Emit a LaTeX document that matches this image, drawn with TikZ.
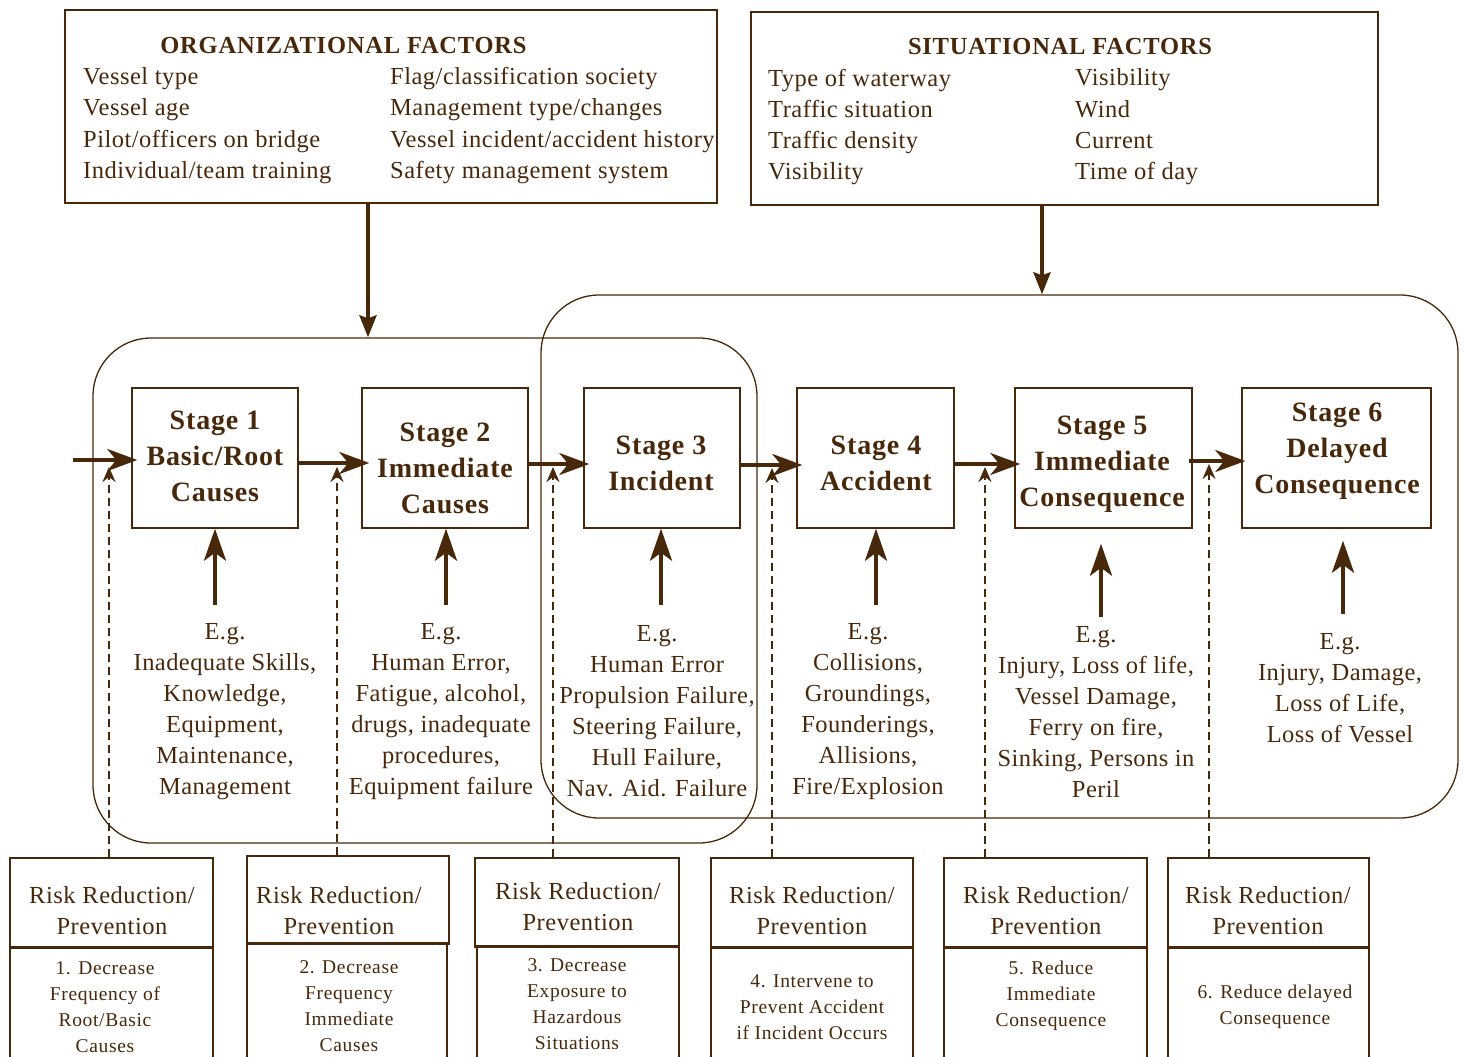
\documentclass[tikz,border=0pt]{standalone}
\usepackage{fontspec}
\setmainfont{Liberation Serif}
\usetikzlibrary{arrows.meta,calc}
\definecolor{brn}{RGB}{72,40,10}

\begin{document}
\begin{tikzpicture}[x=1pt,y=-1pt,
  frame/.style={draw=brn, line width=1.4pt, rectangle, inner sep=0pt},
  grp/.style={draw=brn, line width=1.3pt, rectangle, rounded corners=58pt, inner sep=0pt},
  txt/.style={text=brn, inner sep=0pt, align=center, font=\fontsize{24.5}{31}\selectfont\addfontfeature{LetterSpace=1.8}},
  coltxt/.style={text=brn, inner sep=0pt, align=left, anchor=west, font=\fontsize{24.5}{31.3}\selectfont\addfontfeature{LetterSpace=2}},
  headtxt/.style={text=brn, inner sep=0pt, font=\bfseries\fontsize{24.5}{30}\selectfont\addfontfeature{LetterSpace=3.2}},
  stagetxt/.style={text=brn, inner sep=0pt, align=center, font=\bfseries\fontsize{28}{36}\selectfont\addfontfeature{LetterSpace=3}},
  rrtxt/.style={text=brn, inner sep=0pt, align=center, font=\fontsize{24.5}{31}\selectfont\addfontfeature{LetterSpace=2.2}},
  smalltxt/.style={text=brn, inner sep=0pt, align=center, font=\fontsize{19.5}{26}\selectfont\addfontfeature{LetterSpace=3.5}},
  flow/.style={draw=brn, line width=4pt, -{Stealth[length=30pt,width=22pt,inset=9pt]}},
  uparrow/.style={draw=brn, line width=4pt, -{Stealth[length=32pt,width=22pt,inset=8pt]}},
  downarrow/.style={draw=brn, line width=4pt, -{Stealth[length=22pt,width=17pt,inset=3pt]}},
  dasharrow/.style={draw=brn, line width=1.8pt, dash pattern=on 8pt off 5pt, -{Stealth[length=15pt,width=13pt,inset=5pt]}},
  sep/.style={draw=brn, line width=3.2pt}
]
\useasboundingbox (0,0) rectangle (1464,1057);
\clip (0,0) rectangle (1464,1057);

% ---------- factor boxes ----------
\node[frame, minimum width=652pt, minimum height=193pt] (org) at (391,106.5) {};
\node[headtxt] (orgt) at (343.5,46) {ORGANIZATIONAL FACTORS};
\node[coltxt] (orgl) at (83,125.5) {Vessel type\\Vessel age\\Pilot/officers on bridge\\Individual/team training};
\node[coltxt] (orgr) at (390,125.5) {Flag/classification society\\Management type/changes\\Vessel incident/accident history\\Safety management system};

\node[frame, minimum width=627pt, minimum height=193pt] (sit) at (1064.5,108.5) {};
\node[headtxt] (sitt) at (1060,47) {SITUATIONAL FACTORS};
\node[coltxt] (sitl) at (768,127) {Type of waterway\\Traffic situation\\Traffic density\\Visibility};
\node[coltxt] (sitr) at (1075,127) {Visibility\\Wind\\Current\\Time of day};

% ---------- grouping frames ----------
\node[grp, minimum width=664pt, minimum height=505pt] (g1) at (425,590.5) {};
\node[grp, minimum width=917pt, minimum height=523pt] (g2) at (999.5,556.5) {};

\coordinate (oa) at (368,203);
\coordinate (sa) at (1042,205);
\draw[downarrow] (oa) -- (oa |- g1.north);
\draw[downarrow] (sa) -- (sa |- g2.north);

% ---------- stages ----------
\node[frame, minimum width=166pt, minimum height=140pt] (s1) at (215,458) {};
\node[frame, minimum width=166pt, minimum height=140pt] (s2) at (445,458) {};
\node[frame, minimum width=156pt, minimum height=140pt] (s3) at (662,458) {};
\node[frame, minimum width=157pt, minimum height=140pt] (s4) at (875.5,458) {};
\node[frame, minimum width=177pt, minimum height=140pt] (s5) at (1103.5,458) {};
\node[frame, minimum width=189pt, minimum height=140pt] (s6) at (1336.5,458) {};

\node[stagetxt] (s1t) at (215,456) {Stage 1\\Basic/Root\\Causes};
\node[stagetxt] (s2t) at (445,468.5) {Stage 2\\Immediate\\Causes};
\node[stagetxt] (s3t) at (661,463.5) {Stage 3\\Incident};
\node[stagetxt] (s4t) at (876,463.5) {Stage 4\\Accident};
\node[stagetxt] (s5t) at (1102,464) {Stage 5\\Immediate\\Consequence};
\node[stagetxt] (s6t) at (1337,451.5) {Stage 6\\Delayed\\Consequence};

% ---------- flow between stages ----------
\coordinate (in) at (73,460);
\draw[flow, shorten >=-6pt] (in) -- (in -| s1.west);
\draw[flow, shorten >=-8pt] ($(s1.east)+(0,5)$) -- ($(s2.west)+(0,5)$);
\draw[flow, shorten >=-6pt] ($(s2.east)+(0,6)$) -- ($(s3.west)+(0,6)$);
\draw[flow, shorten >=-6pt] ($(s3.east)+(0,7)$) -- ($(s4.west)+(0,7)$);
\draw[flow, shorten >=-6pt] ($(s4.east)+(0,6)$) -- ($(s5.west)+(0,6)$);
\draw[flow, shorten >=-4pt] ($(s5.east)+(-4,3)$) -- ($(s6.west)+(0,3)$);

% ---------- examples ----------
\node[txt] (e1) at (225,711.5) {E.g.\\Inadequate Skills,\\Knowledge,\\Equipment,\\Maintenance,\\Management};
\node[txt] (e2) at (441,711.5) {E.g.\\Human Error,\\Fatigue, alcohol,\\drugs, inadequate\\procedures,\\Equipment failure};
\node[txt] (e3) at (657,711.5) {E.g.\\Human Error\\Propulsion Failure,\\Steering Failure,\\Hull Failure,\\Nav. Aid. Failure};
\node[txt] (e4) at (868,711.5) {E.g.\\Collisions,\\Groundings,\\Founderings,\\Allisions,\\Fire/Explosion};
\node[txt] (e5) at (1096,712) {E.g.\\Injury, Loss of life,\\Vessel Damage,\\Ferry on fire,\\Sinking, Persons in\\Peril};
\node[txt] (e6) at (1340,688) {E.g.\\Injury, Damage,\\Loss of Life,\\Loss of Vessel};

\coordinate (a1) at (215,605);
\coordinate (a2) at (446,605);
\coordinate (a3) at (661,605);
\coordinate (a4) at (876,605);
\coordinate (a5) at (1101,617);
\coordinate (a6) at (1343,614);
\draw[uparrow] (a1) -- (a1 |- s1.south);
\draw[uparrow] (a2) -- (a2 |- s2.south);
\draw[uparrow] (a3) -- (a3 |- s3.south);
\draw[uparrow] (a4) -- (a4 |- s4.south);
\draw[uparrow, shorten >=15pt] (a5) -- (a5 |- s5.south);
\draw[uparrow, shorten >=12pt] (a6) -- (a6 |- s6.south);

% ---------- risk reduction boxes ----------
\node[frame, minimum width=203pt, minimum height=89pt] (r1) at (111.5,902.5) {};
\node[frame, minimum width=202pt, minimum height=87pt] (r2) at (348,899.5) {};
\node[frame, minimum width=204pt, minimum height=88pt] (r3) at (577,902) {};
\node[frame, minimum width=202pt, minimum height=89pt] (r4) at (812,902.5) {};
\node[frame, minimum width=203pt, minimum height=89pt] (r5) at (1045.5,902.5) {};
\node[frame, minimum width=201pt, minimum height=89pt] (r6) at (1268.5,902.5) {};

\node[rrtxt] (r1t) at (112,910.5) {Risk Reduction/\\Prevention};
\node[rrtxt] (r2t) at (339,910.5) {Risk Reduction/\\Prevention};
\node[rrtxt] (r3t) at (578,907) {Risk Reduction/\\Prevention};
\node[rrtxt] (r4t) at (812,910.5) {Risk Reduction/\\Prevention};
\node[rrtxt] (r5t) at (1046,910.5) {Risk Reduction/\\Prevention};
\node[rrtxt] (r6t) at (1268,910.5) {Risk Reduction/\\Prevention};

\node[frame, anchor=north, minimum width=203pt, minimum height=130pt] (l1) at (r1.south) {};
\node[frame, anchor=north, minimum width=200pt, minimum height=130pt] (l2) at ($(r2.south)+(-1,0)$) {};
\node[frame, anchor=north, minimum width=202pt, minimum height=130pt] (l3) at ($(r3.south)+(1,0)$) {};
\node[frame, anchor=north, minimum width=202pt, minimum height=130pt] (l4) at (r4.south) {};
\node[frame, anchor=north, minimum width=203pt, minimum height=130pt] (l5) at (r5.south) {};
\node[frame, anchor=north, minimum width=201pt, minimum height=130pt] (l6) at (r6.south) {};

\foreach \i in {1,...,6}{
  \draw[sep] (r\i.south west) -- (r\i.south east);
}

\node[smalltxt] (l1t) at (105,1007) {1. Decrease\\Frequency of\\Root/Basic\\Causes};
\node[smalltxt] (l2t) at (349,1006.5) {2. Decrease\\Frequency\\Immediate\\Causes};
\node[smalltxt] (l3t) at (577,1004) {3. Decrease\\Exposure to\\Hazardous\\Situations};
\node[smalltxt] (l4t) at (812,1007) {4. Intervene to\\Prevent Accident\\if Incident Occurs};
\node[smalltxt] (l5t) at (1051,996) {5. Reduce\\Immediate\\Consequence};
\node[smalltxt] (l6t) at (1275,1007) {6. Reduce delayed\\Consequence};

% ---------- dashed feedback from each measure ----------
\coordinate (d1) at (109,467);
\coordinate (d2) at (337,467);
\coordinate (d3) at (553,467);
\coordinate (d4) at (772,468);
\coordinate (d5) at (985,467);
\coordinate (d6) at (1209,464);
\draw[dasharrow] (d1 |- r1.north) -- (d1);
\draw[dasharrow] (d2 |- r2.north) -- (d2);
\draw[dasharrow] (d3 |- r3.north) -- (d3);
\draw[dasharrow] (d4 |- r4.north) -- (d4);
\draw[dasharrow] (d5 |- r5.north) -- (d5);
\draw[dasharrow] (d6 |- r6.north) -- (d6);
\end{tikzpicture}
\end{document}
